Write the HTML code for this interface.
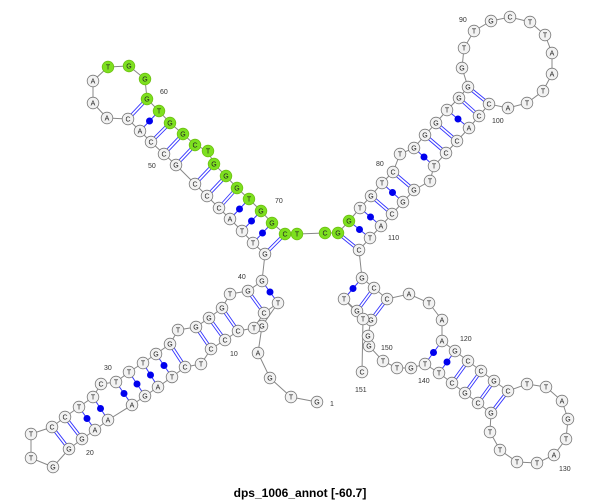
<!DOCTYPE html>
<html><head><meta charset="utf-8"><style>
body{margin:0;background:#fff;width:600px;height:502px;overflow:hidden}
svg{display:block}
text{font-family:"Liberation Sans",sans-serif}
</style></head><body>
<svg id="s" width="600" height="502" xmlns="http://www.w3.org/2000/svg">
<g id="bb"></g><g id="pr"></g><g id="nd"></g><g id="lb"></g>
<text x="300" y="497" text-anchor="middle" font-size="12" font-weight="bold" fill="#000">dps_1006_annot [-60.7]</text>
</svg>
<script>
var N=[
[317,402,'G'],[291,397,'T'],[270,378,'G'],[258,353,'A'],[262,326,'G'],[278,303,'T'],[264,313,'C'],[254,328,'T'],[238,331,'C'],[225,340,'C'],
[211,349,'C'],[201,364,'T'],[185,367,'C'],[172,377,'T'],[158,387,'A'],[145,396,'G'],[132,405,'A'],[108,420,'A'],[95,430,'A'],[82,439,'G'],
[69,449,'G'],[53,467,'G'],[31,458,'T'],[31,434,'T'],[52,427,'C'],[65,417,'C'],[79,407,'T'],[93,397,'T'],[101,384,'C'],[116,382,'T'],
[129,372,'T'],[143,363,'T'],[156,354,'G'],[170,344,'G'],[178,330,'T'],[196,327,'G'],[209,318,'G'],[222,308,'G'],[230,294,'T'],[248,291,'G'],
[262,281,'G'],[265,254,'G'],[253,243,'T'],[242,231,'T'],[230,219,'A'],[219,208,'C'],[207,196,'C'],[195,184,'C'],[176,165,'G'],[164,154,'C'],
[151,142,'C'],[140,131,'A'],[128,119,'C'],[107,118,'A'],[93,103,'A'],[93,81,'A'],[108,67,'T'],[129,66,'G'],[145,79,'G'],[147,99,'G'],
[159,111,'T'],[170,123,'G'],[183,134,'G'],[195,145,'C'],[208,151,'T'],[214,164,'G'],[226,176,'G'],[237,188,'G'],[249,199,'T'],[261,211,'G'],
[272,223,'G'],[285,234,'C'],[297,234,'T'],[325,233,'C'],[338,233,'G'],[349,221,'G'],[360,208,'T'],[371,196,'G'],[382,183,'T'],[393,172,'C'],
[400,154,'T'],[414,148,'G'],[425,135,'G'],[436,123,'G'],[447,110,'T'],[459,98,'G'],[468,87,'G'],[462,68,'G'],[464,48,'T'],[474,31,'T'],
[491,21,'G'],[510,17,'C'],[530,22,'T'],[545,35,'T'],[552,53,'A'],[552,74,'A'],[543,91,'T'],[527,103,'T'],[508,108,'A'],[489,104,'C'],
[479,116,'C'],[469,128,'A'],[457,141,'C'],[446,153,'C'],[434,166,'T'],[430,181,'T'],[414,190,'G'],[403,202,'G'],[392,214,'C'],[381,226,'A'],
[370,238,'T'],[359,250,'C'],[362,278,'G'],[374,288,'C'],[387,299,'C'],[409,294,'A'],[429,303,'T'],[442,320,'A'],[442,341,'A'],[455,351,'G'],
[468,361,'C'],[481,371,'C'],[494,381,'G'],[508,391,'C'],[527,384,'T'],[546,387,'T'],[562,401,'A'],[568,419,'G'],[566,439,'T'],[554,455,'A'],
[537,463,'T'],[517,462,'T'],[500,450,'T'],[490,432,'T'],[491,413,'G'],[478,403,'C'],[465,393,'G'],[452,383,'C'],[439,373,'T'],[425,364,'T'],
[411,368,'G'],[397,368,'T'],[383,361,'T'],[369,346,'G'],[368,336,'G'],[371,320,'G'],[357,311,'G'],[344,299,'T'],[363,319,'T'],[362,372,'C']];
var P=[[25,19,'d'],[24,20,'d'],[26,18,'o'],[27,17,'o'],[29,16,'o'],[30,15,'o'],[31,14,'o'],[32,13,'o'],[33,12,'d'],[35,10,'d'],[36,9,'d'],[37,8,'d'],[39,6,'d'],[40,5,'o'],
[52,59,'d'],[51,60,'o'],[50,61,'d'],[49,62,'d'],[48,63,'d'],[47,65,'d'],[46,66,'d'],[45,67,'d'],[44,68,'o'],[43,69,'o'],[42,70,'o'],[41,71,'d'],
[86,99,'d'],[85,100,'d'],[84,101,'o'],[83,102,'d'],[82,103,'d'],[81,104,'o'],[79,106,'d'],[78,107,'o'],[77,108,'d'],[76,109,'o'],[75,110,'o'],[74,111,'d'],
[112,147,'o'],[113,146,'d'],[114,145,'d'],[118,139,'o'],[119,138,'o'],[120,137,'d'],[121,136,'d'],[122,135,'d'],[123,134,'d']];
var ns="http://www.w3.org/2000/svg";
function el(p,t,a){var e=document.createElementNS(ns,t);for(var k in a)e.setAttribute(k,a[k]);document.getElementById(p).appendChild(e);return e;}
var pts=N.map(function(n){return n[0]+','+n[1]}).join(' ');
el('bb','polyline',{points:pts,fill:'none',stroke:'#888','stroke-width':1});
P.forEach(function(p){var a=N[p[0]],b=N[p[1]];
 if(p[2]=='d'){var dx=b[0]-a[0],dy=b[1]-a[1],L=Math.hypot(dx,dy),nx=-dy/L*1.3,ny=dx/L*1.3;
  [-1,1].forEach(function(s){el('pr','line',{x1:a[0]+s*nx,y1:a[1]+s*ny,x2:b[0]+s*nx,y2:b[1]+s*ny,stroke:'#3333ff','stroke-width':0.9});});
 }else{el('pr','line',{x1:a[0],y1:a[1],x2:b[0],y2:b[1],stroke:'#3333ff','stroke-width':1});
  el('pr','circle',{cx:(a[0]+b[0])/2,cy:(a[1]+b[1])/2,r:3.5,fill:'#0000ee'});}
});
N.forEach(function(n,i){var g=(i>=56&&i<=75);
 el('nd','circle',{cx:n[0],cy:n[1],r:5.8,fill:g?'#7de01f':'#f2f2f2',stroke:g?'#6cc010':'#777','stroke-width':0.8});
 var t=el('nd','text',{x:n[0],y:n[1]+2.6,'text-anchor':'middle','font-size':7,fill:'#222'});t.textContent=n[2];});
var L=[[160,94,'60'],[148,168,'50'],[275,203,'70'],[459,22,'90'],[492,123,'100'],[376,166,'80'],[388,240,'110'],[238,279,'40'],[104,370,'30'],[86,455,'20'],[230,356,'10'],[330,406,'1'],[460,341,'120'],[381,350,'150'],[355,392,'151'],[418,383,'140'],[559,471,'130']];
L.forEach(function(l){var t=el('lb','text',{x:l[0],y:l[1],'font-size':7,fill:'#333'});t.textContent=l[2];});
</script>
</body></html>
